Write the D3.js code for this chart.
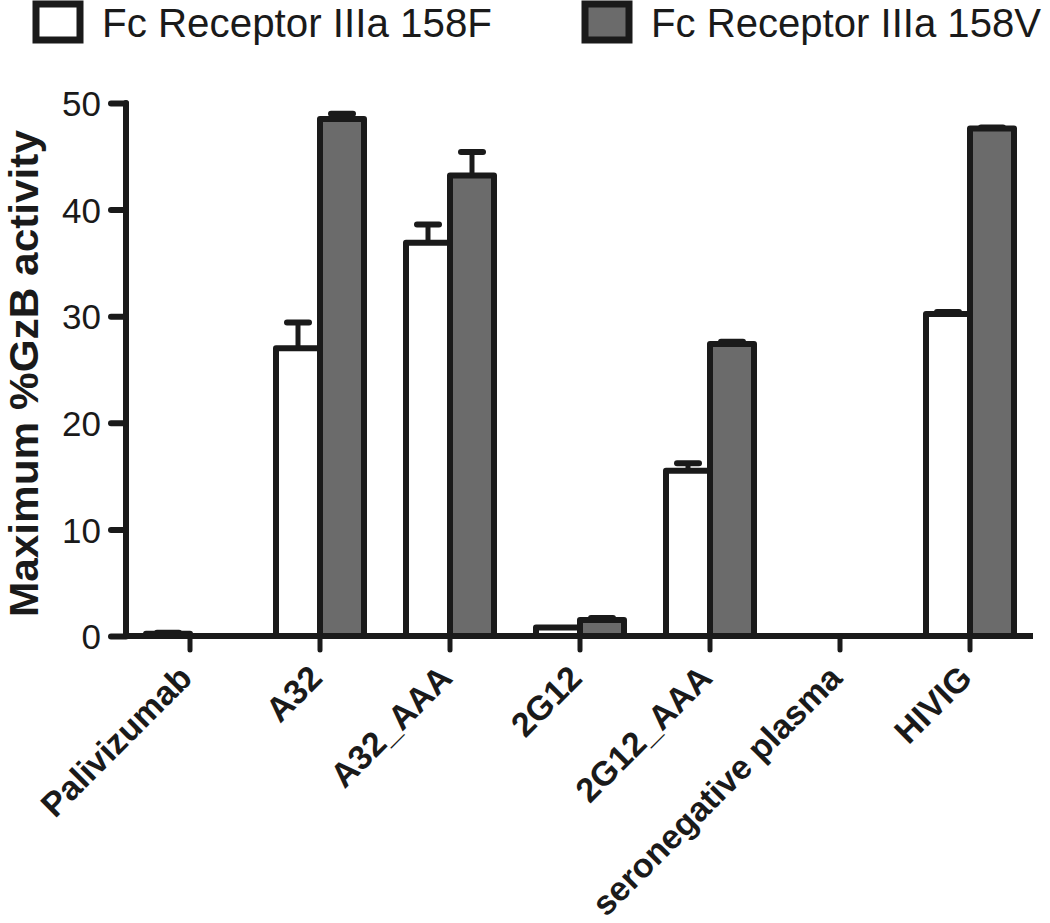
<!DOCTYPE html>
<html><head><meta charset="utf-8">
<script src="https://cdn.jsdelivr.net/npm/d3@7"></script>
<style>body{margin:0;background:#fff}svg{display:block}</style>
</head><body>
<script>
const categories = ["Palivizumab","A32","A32_AAA","2G12","2G12_AAA","seronegative plasma","HIVIG"];
const seriesNames = ["Fc Receptor IIIa 158F","Fc Receptor IIIa 158V"];
const valuesF = [0.2, 27.0, 36.9, 0.8, 15.5, 0, 30.2];
const errorsF = [0.1, 2.4, 1.7, 0, 0.7, 0, 0.2];
const valuesV = [0, 48.5, 43.2, 1.5, 27.4, 0, 47.6];
const errorsV = [0, 0.5, 2.2, 0.2, 0.2, 0, 0.1];
const yTicks = [0,10,20,30,40,50];
const yTitle = "Maximum %GzB activity";

const W=1050,H=923;
const ink="#1a1a1a", grayFill="#6b6b6b";
const svg=d3.select("body").append("svg").attr("width",W).attr("height",H);
const font="'Liberation Sans', Arial, Helvetica, sans-serif";

const y=d3.scaleLinear().domain([0,50]).range([636,103]);
const x=d3.scaleBand().domain(categories).range([125,1035]).paddingInner(0).paddingOuter(0);
const barW=44;

const data=[];
categories.forEach((c,i)=>{
  data.push({c,s:0,v:valuesF[i],e:errorsF[i]});
  data.push({c,s:1,v:valuesV[i],e:errorsV[i]});
});
const cx=d=>x(d.c)+x.bandwidth()/2;
const bx=d=>d.s===0?cx(d)-barW:cx(d);

const g=svg.append("g");
g.selectAll("line.err").data(data.filter(d=>d.e>0)).enter().append("line")
  .attr("x1",d=>bx(d)+barW/2).attr("x2",d=>bx(d)+barW/2)
  .attr("y1",d=>y(d.v)).attr("y2",d=>y(d.v+d.e))
  .attr("stroke",ink).attr("stroke-width",5);
g.selectAll("line.cap").data(data.filter(d=>d.e>0)).enter().append("line")
  .attr("x1",d=>bx(d)+barW/2-11).attr("x2",d=>bx(d)+barW/2+11)
  .attr("y1",d=>y(d.v+d.e)).attr("y2",d=>y(d.v+d.e))
  .attr("stroke",ink).attr("stroke-width",6).attr("stroke-linecap","round");
g.selectAll("rect.bar").data(data.filter(d=>d.v>0)).enter().append("rect")
  .attr("x",d=>bx(d)).attr("width",barW)
  .attr("y",d=>y(d.v)).attr("height",d=>y(0)-y(d.v))
  .attr("fill",d=>d.s===0?"#fff":grayFill)
  .attr("stroke",ink).attr("stroke-width",6).attr("stroke-linejoin","round");

// y axis
const ya=svg.append("g").attr("transform","translate(126,0)")
  .call(d3.axisLeft(y).tickValues(yTicks).tickSize(15).tickPadding(10).tickFormat(d3.format("d")));
ya.select(".domain").attr("d",`M0,${y(50)}V${y(0)}`).attr("stroke",ink).attr("stroke-width",6).attr("stroke-linecap","round");
ya.selectAll(".tick line").attr("stroke",ink).attr("stroke-width",6).attr("stroke-linecap","round");
ya.selectAll(".tick text").attr("font-family",font).attr("font-size",35).attr("fill",ink).attr("dy","0.36em");

// x axis
const xa=svg.append("g").attr("transform",`translate(0,${y(0)})`)
  .call(d3.axisBottom(x).tickSize(14).tickFormat(""));
xa.select(".domain").attr("d","M124,0H1033").attr("stroke",ink).attr("stroke-width",6);
xa.selectAll(".tick line").attr("stroke",ink).attr("stroke-width",5).attr("stroke-linecap","round");
xa.selectAll(".tick text").remove();
svg.append("g").selectAll("text").data(categories).enter().append("text")
  .attr("transform",d=>`translate(${x(d)+x.bandwidth()/2+4},${y(0)+44}) rotate(-45)`)
  .attr("text-anchor","end").attr("font-family",font).attr("font-weight","bold")
  .attr("font-size",34).attr("fill",ink).text(d=>d);

// y title
svg.append("text").attr("transform",`translate(38,${(y(0)+y(50))/2+4}) rotate(-90)`)
  .attr("text-anchor","middle").attr("font-family",font).attr("font-weight","bold")
  .attr("font-size",40).attr("fill",ink).attr("textLength",487).attr("lengthAdjust","spacingAndGlyphs").text(yTitle);

// legend
const leg=svg.append("g");
const legX=[36,585];
seriesNames.forEach((n,i)=>{
  leg.append("rect").attr("x",legX[i]).attr("y",4).attr("width",44).attr("height",36)
    .attr("fill",i===0?"#fff":grayFill).attr("stroke",ink).attr("stroke-width",7);
  leg.append("text").attr("x",legX[i]+66).attr("y",37).attr("font-family",font)
    .attr("font-size",40).attr("fill",ink).attr("textLength",390)
    .attr("lengthAdjust","spacingAndGlyphs").text(n);
});
</script>
</body></html>
